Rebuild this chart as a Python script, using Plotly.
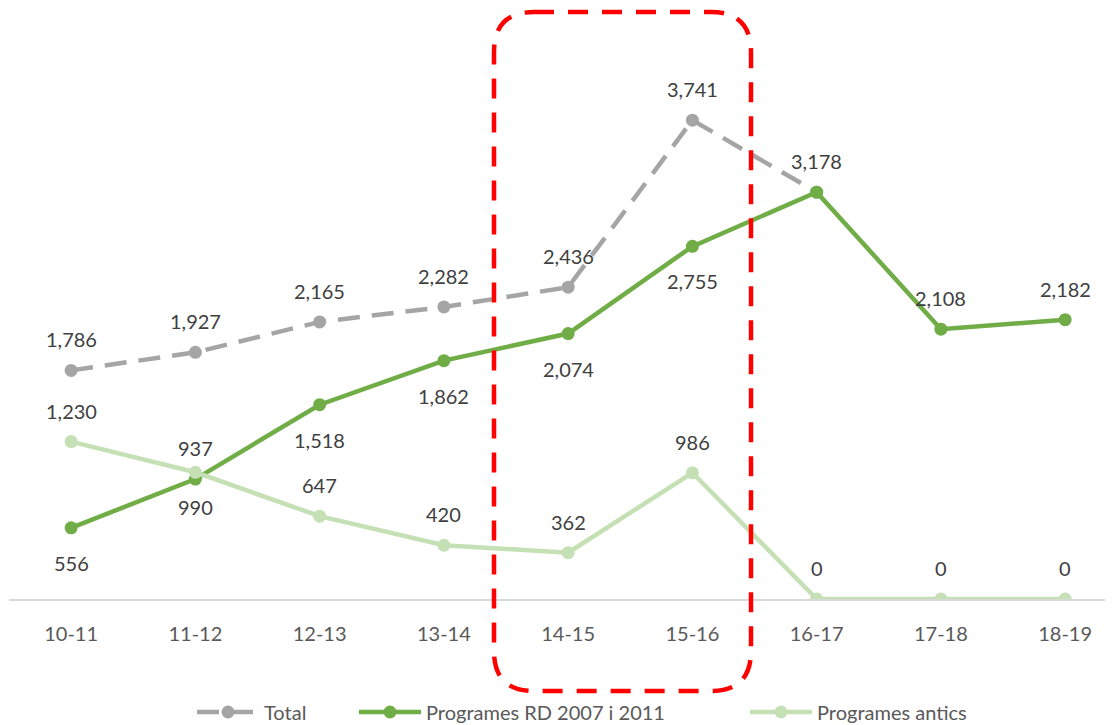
"""Line chart: alumnes per programa, curs 10-11 a 18-19."""

from plotly import graph_objects as go

cursos = ["10-11", "11-12", "12-13", "13-14", "14-15", "15-16", "16-17", "17-18", "18-19"]
total = [1786, 1927, 2165, 2282, 2436, 3741, 3178, None, None]
rd_2007_2011 = [556, 937, 1518, 1862, 2074, 2755, 3178, 2108, 2182]
antics = [1230, 990, 647, 420, 362, 986, 0, 0, 0]

# label placement per point: 1 = above, -1 = below, 0 = none
total_pos = [1, 1, 1, 1, 1, 1, 1, 0, 0]
rd_pos = [-1, 1, -1, -1, -1, -1, 0, 1, 1]
antics_pos = [1, -1, 1, 1, 1, 1, 1, 1, 1]

GRAY = "#A5A5A5"
GREEN = "#70AD47"
LIGHT = "#C5E0B4"
FONT = "Lato, Open Sans, sans-serif"

# page body has an 8px margin, so the figure is a bit smaller than the window
OFF = 8
W, H = 1105, 717
L, R, T, B = 1, 0, 15, 126


def px_to_paper(px, py):
    return (px - OFF - L) / (W - L - R), (H - B - (py - OFF)) / (H - T - B)


fig = go.Figure()
series = [
    ("Total", total, GRAY, "22px,12px", total_pos, "legend", 192),
    ("Programes RD 2007 i 2011", rd_2007_2011, GREEN, "solid", rd_pos, "legend2", 354),
    ("Programes antics", antics, LIGHT, "solid", antics_pos, "legend3", 745),
]
legends = {}
for name, vals, color, dash, pos, leg, leg_x in series:
    fig.add_trace(
        go.Scatter(
            x=cursos,
            y=vals,
            name=name,
            mode="lines+markers",
            line=dict(color=color, width=4.5, dash=dash),
            marker=dict(color=color, size=13),
            connectgaps=False,
            legend=leg,
        )
    )
    legends[leg] = dict(
        orientation="h",
        x=px_to_paper(leg_x, 0)[0],
        xanchor="left",
        y=px_to_paper(0, 712)[1],
        yanchor="middle",
        font=dict(size=20, color="#595959"),
        itemwidth=62,
        bgcolor="rgba(0,0,0,0)",
    )
    for c, v, p in zip(cursos, vals, pos):
        if v is None or p == 0:
            continue
        fig.add_annotation(
            x=c,
            y=v,
            text=f"{v:,}",
            showarrow=False,
            yshift=31 if p > 0 else -35,
            font=dict(size=20, color="#404040", family=FONT),
        )

# rounded dashed highlight box
x0, y0 = px_to_paper(494, 12)
x1, y1 = px_to_paper(751, 691)
rx = 40 / (W - L - R)
ry = 40 / (H - T - B)
path = (
    f"M {x0 + rx},{y0} L {x1 - rx},{y0} Q {x1},{y0} {x1},{y0 - ry} "
    f"L {x1},{y1 + ry} Q {x1},{y1} {x1 - rx},{y1} "
    f"L {x0 + rx},{y1} Q {x0},{y1} {x0},{y1 + ry} "
    f"L {x0},{y0 - ry} Q {x0},{y0} {x0 + rx},{y0} Z"
)
fig.add_shape(
    type="path",
    path=path,
    xref="paper",
    yref="paper",
    line=dict(color="#FF0000", width=4.5, dash="20px,14px"),
)

fig.update_layout(
    width=W,
    height=H,
    margin=dict(l=L, r=R, t=T, b=B, autoexpand=False),
    plot_bgcolor="white",
    paper_bgcolor="white",
    font=dict(family=FONT, size=20, color="#595959"),
    showlegend=True,
    **legends,
)
fig.update_xaxes(
    type="category",
    range=[-0.5, 8.385],
    showgrid=False,
    showline=True,
    linecolor="#D9D9D9",
    linewidth=1.5,
    ticks="outside",
    ticklen=16,
    tickcolor="rgba(0,0,0,0)",
    tickfont=dict(size=20, color="#595959"),
    zeroline=False,
)
fig.update_yaxes(range=[0, 4500], visible=False, showgrid=False, zeroline=False)

fig.write_html("out.html")
